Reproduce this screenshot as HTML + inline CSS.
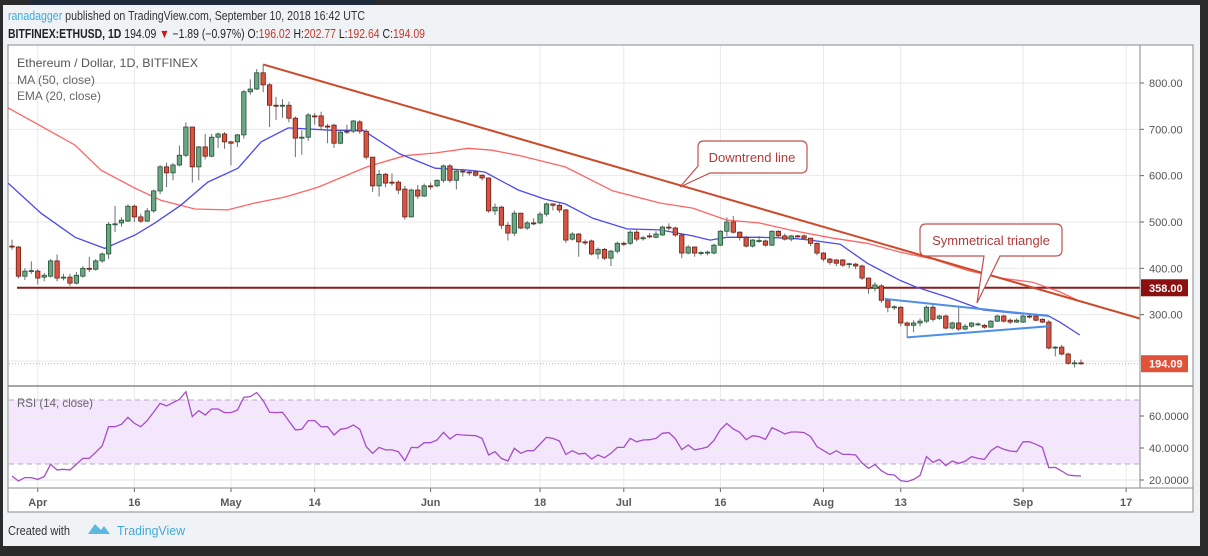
<!DOCTYPE html>
<html><head><meta charset="utf-8"><style>
html,body{margin:0;padding:0;background:#2b2b2b;width:1208px;height:556px;overflow:hidden}
svg{display:block;font-family:"Liberation Sans",sans-serif}
</style></head><body>
<svg id="chart" width="1208" height="556" viewBox="0 0 1208 556">
<rect x="0" y="0" width="1208" height="556" fill="#2b2b2b"/>
<rect x="30" y="0" width="345" height="5" fill="#1f2b3b"/>
<rect x="3" y="5" width="1197" height="541" fill="#f0f3f6"/>
<text x="8" y="20" font-size="12.5" textLength="357" lengthAdjust="spacingAndGlyphs" fill="#333"><tspan fill="#3fa9d8">ranadagger</tspan> published on TradingView.com, September 10, 2018 16:42 UTC</text>
<text x="8" y="38" font-size="12.5" textLength="417" lengthAdjust="spacingAndGlyphs" fill="#222"><tspan font-weight="bold">BITFINEX:ETHUSD, 1D</tspan> 194.09 <tspan fill="#c0221f">▼</tspan> −1.89 (−0.97%) O:<tspan fill="#c0392b">196.02</tspan> H:<tspan fill="#c0392b">202.77</tspan> L:<tspan fill="#c0392b">192.64</tspan> C:<tspan fill="#c0392b">194.09</tspan></text>
<rect x="8" y="45" width="1185" height="467" fill="#fff" stroke="#8a8a8a" stroke-width="1"/>
<g id="grid"></g>
<g id="pricePane" clip-path="url(#clipP)"></g>
<g id="rsiPane" clip-path="url(#clipR)"></g>
<g id="axes"></g>
<defs>
<clipPath id="clipP"><rect x="8" y="45" width="1132" height="341"/></clipPath>
<clipPath id="clipR"><rect x="8" y="386" width="1132" height="102"/></clipPath>
</defs>
<text x="17" y="67" font-size="12" fill="#555" textLength="181" lengthAdjust="spacingAndGlyphs">Ethereum / Dollar, 1D, BITFINEX</text>
<text x="17" y="84" font-size="12" fill="#666" textLength="78" lengthAdjust="spacingAndGlyphs">MA (50, close)</text>
<text x="17" y="100" font-size="12" fill="#666" textLength="84" lengthAdjust="spacingAndGlyphs">EMA (20, close)</text>
<text x="17" y="407" font-size="12" fill="#666" textLength="76" lengthAdjust="spacingAndGlyphs">RSI (14, close)</text>
<g>
<path d="M704 141 H801 Q807 141 807 147 V167 Q807 173 801 173 H710 L680 187 L698 166 V147 Q698 141 704 141 Z" fill="#fff" stroke="#c0504d" stroke-width="1.2"/>
<text x="752" y="162" font-size="13" fill="#b03a3a" text-anchor="middle">Downtrend line</text>
</g>
<g>
<path d="M926 224 H1056 Q1062 224 1062 230 V250 Q1062 256 1056 256 H1000 L977 303 L984 256 H926 Q920 256 920 250 V230 Q920 224 926 224 Z" fill="#fff" stroke="#c0504d" stroke-width="1.2"/>
<text x="991" y="245" font-size="13" fill="#b03a3a" text-anchor="middle">Symmetrical triangle</text>
</g>
<text x="8" y="535" font-size="13" fill="#333" textLength="62" lengthAdjust="spacingAndGlyphs">Created with</text>
<path d="M88 534 L95 524 L101 530 L104 526 L110 534 Z" fill="#5bb8e0"/>
<text x="117" y="535" font-size="13" fill="#3fa9d8" textLength="68" lengthAdjust="spacingAndGlyphs">TradingView</text>
</svg>
<script>
// day 0 = Mar 28 2018
const opens=[448,446,383,394,394,381,383,416,379,381,368,383,400,398,416,431,495,498,502,534,511,502,524,567,619,606,623,644,705,619,662,642,683,690,673,673,688,781,787,822,
796,752,750,752,724,681,683,729,729,707,709,670,696,696,716,696,640,578,603,586,586,571,511,569,556,578,578,590,621,590,610,608,608,601,595,524,532,493,476,519,487,498,498,517,539,536,526,
463,474,457,459,431,441,422,437,454,454,478,465,470,467,472,489,487,472,433,446,433,433,433,450,480,500,478,467,448,459,459,450,480,470,463,470,470,465,454,433,420,
418,418,408,409,405,379,357,362,331,316,316,282,277,282,286,316,292,297,271,282,269,275,279,277,273,286,297,288,284,284,297,297,290,284,228,230,215,195,196];
const closes=[446,383,394,395,379,385,416,379,381,368,385,400,398,416,431,495,496,504,534,511,502,524,567,619,606,623,644,705,619,662,642,683,690,673,670,688,781,787,822,796,
752,750,752,724,681,683,731,727,707,705,670,694,694,718,696,640,578,603,584,584,569,511,569,556,578,576,590,621,590,610,608,606,601,595,524,532,493,476,519,487,498,497,517,539,536,526,461,
474,457,456,431,441,422,437,454,453,478,463,466,469,474,489,487,472,433,446,433,434,435,450,480,500,478,467,448,461,460,450,480,470,463,470,469,465,454,433,420,413,
411,407,410,405,379,357,364,331,316,317,282,277,282,286,316,290,297,271,282,269,275,282,280,273,286,297,286,284,288,297,295,288,284,228,230,215,195,196,194];
const highs=[462,448,400,415,398,390,420,430,388,388,392,405,425,420,434,500,535,510,538,538,518,530,570,623,628,627,665,715,705,664,690,690,693,694,675,690,785,808,830,840,
800,770,765,760,728,698,735,735,738,712,712,700,710,720,720,700,640,612,606,605,590,578,572,580,583,585,592,624,625,612,615,612,612,603,596,540,535,500,525,520,502,508,522,542,540,540,528,
478,476,462,462,445,444,440,458,458,482,485,470,476,480,492,497,490,475,450,447,437,438,453,482,510,513,480,470,463,470,462,482,482,475,472,472,473,466,456,435,422,
420,420,412,412,408,380,370,366,335,320,318,285,288,292,320,322,300,300,285,318,280,284,283,280,288,300,300,292,292,300,300,300,292,288,232,235,218,202,203];
const lows=[440,378,375,388,365,372,380,372,374,362,365,380,392,395,412,420,478,490,500,500,498,500,520,560,575,590,620,640,585,590,635,640,660,658,622,662,680,775,785,780,
705,720,725,715,640,645,675,710,700,670,660,668,690,692,690,635,565,555,575,578,560,505,510,550,554,570,575,585,585,570,598,600,598,590,520,515,485,460,470,485,483,493,495,512,525,520,455,
460,425,450,428,420,418,405,432,448,450,458,460,465,465,470,482,468,422,430,425,428,428,430,448,470,475,460,445,445,455,447,448,465,460,458,466,462,448,428,415,408,
405,403,400,398,375,345,350,325,305,310,275,250,262,275,282,285,288,268,268,265,266,272,276,270,272,284,283,280,282,282,292,286,282,225,210,212,192,186,192];
const emaDays=[-0.6,4.5,9.8,14.4,19.1,22.2,26.2,30.4,35.1,38.7,42.9,49.8,54.5,60.2,65.7,70.8,73.4,78.6,82.8,85.9,90.2,95.5,100.6,105.7,108.4,111,116,121,124,128.6,132.8,137.9,140.5,145.7,150.8,156,160.7,162.7,165.8];
const emaVals=[584,519,467,443,472,498,536,586,616,673,703,698,698,647,616,612,608,569,549,539,508,485,483,470,461,467,467,465,461,452,411,374,359,336,310,303,299,284,256];
const maDays=[-0.6,4.5,9.8,13.8,19.1,23.1,28.4,33.5,37.7,42.4,47.5,55.1,61,65.7,70.8,74.5,78.6,85.9,93.3,100.6,105.7,111,116,121,127.5,132.8,137.9,143,148.3,153.4,158.5,162.7,165.8];
const maVals=[746,707,666,612,573,547,528,526,541,554,575,619,643,649,659,655,644,619,567,541,530,504,498,482,465,454,435,420,396,379,370,349,329];
const rsiVals=[22.5,19.4,21.5,21.5,20.4,22.1,29.8,26.3,26.7,26.3,29.8,33.5,33.5,37.3,41.3,53.3,53.3,54.8,59.2,55.4,53.3,57.1,62.5,67.9,66.3,68.3,70.4,75.2,59.6,63.3,60.6,64.4,64.4,62.1,62.1,63.7,71.7,72.1,74.6,69.6,62.3,62.1,62.3,56.9,51.3,51.7,57.1,57.1,53.3,53.3,48.1,51.7,52.3,54.4,51.7,40.9,36.7,40.4,38.8,38.8,37.7,32.1,40.4,40.2,43.3,43.3,45.0,49.8,45.6,48.5,48.1,47.9,47.7,46.0,35.6,37.7,33.5,31.9,39.8,36.7,38.3,38.3,42.5,46.7,46.0,44.4,36.0,38.3,36.3,36.7,33.1,35.6,
33.9,36.7,40.4,40.4,46.0,43.9,45.0,45.2,46.0,49.2,49.6,45.8,39.0,41.9,38.8,39.6,40.6,44.8,51.5,55.4,51.9,49.8,45.2,47.7,47.1,45.4,52.7,50.9,48.8,50.0,50.0,49.6,47.1,40.8,38.5,36.0,38.3,36.0,36.0,35.6,30.6,27.3,29.6,25.8,23.5,23.1,19.6,19.0,20.4,22.9,34.6,31.0,32.9,29.0,31.9,30.4,31.7,34.6,33.5,32.9,38.3,41.0,39.2,38.1,37.7,43.9,43.9,42.3,40.4,27.7,27.9,25.6,23.1,22.7,22.5];
const priceTicks=[800,700,600,500,400,300];
const priceGrid=[800,700,600,500,400,300,200];
const rsiTicks=[60,40,20];
const dateLabels=["Apr","16","May","14","Jun","18","Jul","16","Aug","13","Sep","17"];
const dateDays=[4,19,34,47,65,82,95,110,126,138,157,173];
const supportLevel=[358];
const lastClose=[194.09];
const trendDays=[39,185.7];
const trendPrices=[840,249];
const triUpperDays=[135.5,161];
const triUpperPrices=[334,297];
const triLowerDays=[139,161];
const triLowerPrices=[251,275];

const NS="http://www.w3.org/2000/svg";
const xD=d=>12+d*6.44;
const yP=p=>83+(800-p)*0.4633;
const yR=v=>416+(60-v)*1.6;
function mk(tag,attrs,parent){const e=document.createElementNS(NS,tag);for(const k in attrs)e.setAttribute(k,attrs[k]);parent.appendChild(e);return e;}
const grid=document.getElementById('grid'),pp=document.getElementById('pricePane'),rp=document.getElementById('rsiPane'),ax=document.getElementById('axes');

dateDays.forEach((d,i)=>{
  const g=mk('line',{x1:xD(d),x2:xD(d),y1:46,y2:488,stroke:'#e9e9e9','stroke-width':1},grid);
  
  
  const t=mk('text',{x:xD(d),y:506,'font-size':11,'font-weight':'bold',fill:'#5a5a5a','text-anchor':'middle'},ax);
  t.textContent=dateLabels[i];
  
  
  const tk=mk('line',{x1:xD(d),x2:xD(d),y1:488,y2:492,stroke:'#666'},ax);
  
  
});
priceGrid.forEach(p=>{
  const g=mk('line',{x1:9,x2:1140,y1:yP(p),y2:yP(p),stroke:'#e9e9e9','stroke-width':1},grid);
  
  
});
const band=mk('rect',{x:9,y:yR(70),width:1131,height:yR(30)-yR(70),fill:'#f4e6fc'},grid);


rsiTicks.forEach(v=>{
  const g=mk('line',{x1:9,x2:1140,y1:yR(v),y2:yR(v),stroke:'#ececec','stroke-width':1.5},grid);
  
  
});
[70,30].forEach(v=>{
  const g=mk('line',{x1:9,x2:1140,y1:yR(v),y2:yR(v),stroke:'#b8a8c0','stroke-dasharray':'5,4'},grid);
  
  
});

const sup=mk('line',{x1:17,x2:1140,y1:yP(supportLevel[0]),y2:yP(supportLevel[0]),stroke:'#8b1c1c','stroke-width':2},pp);


const lc=mk('line',{x1:9,x2:1140,y1:yP(lastClose[0]),y2:yP(lastClose[0]),stroke:'#e8a090','stroke-dasharray':'1,2'},pp);



function poly(days,vals,yf,attrs,parent,name){
  const pts=days.map((d,i)=>xD(d).toFixed(1)+','+yf(vals[i]).toFixed(1)).join(' ');
  const e=mk('polyline',Object.assign({points:pts,fill:'none'},attrs),parent);
  
  
  return e;
}
poly(maDays,maVals,yP,{stroke:'#ff4a4a','stroke-width':1.3,'stroke-opacity':0.85},pp,'ma50-line');
poly(emaDays,emaVals,yP,{stroke:'#4a4af0','stroke-width':1.3},pp,'ema20-line');

opens.forEach((o,i)=>{
  const c=closes[i],x=xD(i),up=c>=o;
  const w=mk('line',{x1:x,x2:x,y1:yP(highs[i]),y2:yP(lows[i]),stroke:'#6e6e70','stroke-width':1},pp);
  
  
  const top=yP(Math.max(o,c)),bot=yP(Math.min(o,c));
  const b=mk('rect',{x:x-2.2,y:top,width:4.4,height:Math.max(1,bot-top),fill:up?'#6ba583':'#d75442',stroke:up?'#225437':'#6b1e14','stroke-width':0.8},pp);
  
  
});

const tl=mk('line',{x1:xD(trendDays[0]),y1:yP(trendPrices[0]),x2:xD(trendDays[1]),y2:yP(trendPrices[1]),stroke:'#cc4a2a','stroke-width':2},pp);


const tu=mk('line',{x1:xD(triUpperDays[0]),y1:yP(triUpperPrices[0]),x2:xD(triUpperDays[1]),y2:yP(triUpperPrices[1]),stroke:'#4d8fe8','stroke-width':2},pp);


const tlo=mk('line',{x1:xD(triLowerDays[0]),y1:yP(triLowerPrices[0]),x2:xD(triLowerDays[1]),y2:yP(triLowerPrices[1]),stroke:'#4d8fe8','stroke-width':2},pp);



poly(rsiVals.map((v,i)=>i),rsiVals,yR,{stroke:'#a64dc8','stroke-width':1.3},rp,'rsi-line');

const sep=mk('line',{x1:8,x2:1193,y1:386,y2:386,stroke:'#8a8a8a','stroke-width':1.5},ax);


const sep2=mk('line',{x1:8,x2:1193,y1:488,y2:488,stroke:'#8a8a8a','stroke-width':1},ax);


const vs=mk('line',{x1:1140,x2:1140,y1:45,y2:488,stroke:'#8a8a8a','stroke-width':1},ax);


priceTicks.forEach(p=>{
  const t=mk('text',{x:1149,y:yP(p)+4,'font-size':11,fill:'#555'},ax);
  t.textContent=p.toFixed(2);
  
  
  const k=mk('line',{x1:1140,x2:1144,y1:yP(p),y2:yP(p),stroke:'#666'},ax);
  
  
});
rsiTicks.forEach(v=>{
  const t=mk('text',{x:1149,y:yR(v)+4,'font-size':11,fill:'#555'},ax);
  t.textContent=v.toFixed(4);
  
  
  const k=mk('line',{x1:1140,x2:1144,y1:yR(v),y2:yR(v),stroke:'#666'},ax);
  
  
});
function tag(val,bg,name){
  const y=yP(val);
  const r=mk('rect',{x:1141,y:y-8.5,width:47,height:17,fill:bg},ax);
  
  
  const t=mk('text',{x:1149,y:y+4,'font-size':11,'font-weight':'bold',fill:'#fff'},ax);
  t.textContent=val.toFixed(2);
  
  
}
tag(supportLevel[0],'#8b1010','support-price-tag');
tag(lastClose[0],'#e0533a','last-price-tag');
</script>
</body></html>
